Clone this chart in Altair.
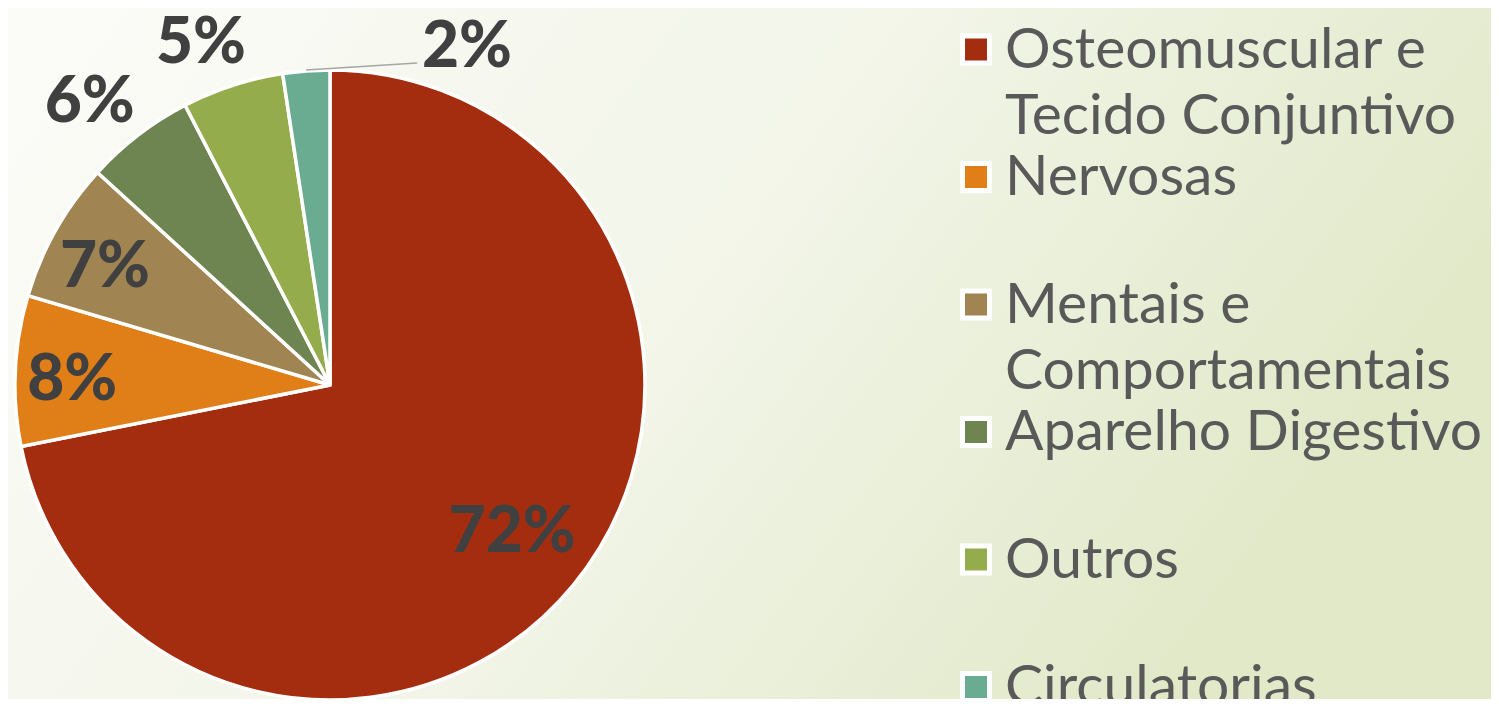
import altair as alt
import pandas as pd

# ---- data ----
categories = [
    "Osteomuscular e Tecido Conjuntivo",
    "Nervosas",
    "Mentais e Comportamentais",
    "Aparelho Digestivo",
    "Outros",
    "Circulatorias",
]
values = [71.8, 7.7, 7.2, 5.6, 5.2, 2.4]
legend_labels = [
    "Osteomuscular e\nTecido Conjuntivo",
    "Nervosas",
    "Mentais e\nComportamentais",
    "Aparelho Digestivo",
    "Outros",
    "Circulatorias",
]
colors = ["#A52D0F", "#E07E18", "#A08452", "#6F8551", "#95AC4D", "#69AC91"]

df = pd.DataFrame({
    "cat": categories,
    "value": values,
    "legend": legend_labels,
    "idx": list(range(len(categories))),
})

# ---- layout constants ----
W, H = 1483, 691
CX, CY, R = 322, 377, 315

color = alt.Color("cat:N", scale=alt.Scale(domain=categories, range=colors), legend=None)
theta = alt.Theta("value:Q", stack=True)
order = alt.Order("idx:Q")

base = alt.Chart(df)

bg = alt.Chart(alt.Data(values=[{"a": 1}])).mark_rect(
    color=alt.LinearGradient(
        gradient="linear",
        stops=[
            alt.GradientStop(color="#FBFCF8", offset=0),
            alt.GradientStop(color="#F2F5E8", offset=0.55),
            alt.GradientStop(color="#E1E9C9", offset=1),
        ],
        x1=0, x2=1, y1=0, y2=0.35,
    )
).encode(x=alt.value(0), x2=alt.value(W), y=alt.value(0), y2=alt.value(H))

pie = base.mark_arc(outerRadius=R, stroke="white", strokeWidth=3.5).encode(
    theta=theta, color=color, order=order,
    x=alt.value(CX), y=alt.value(CY),
)

label_base = base.transform_calculate(txt="format(datum.value, '.0f') + '%'")


def pct_labels(test, radius, dx=0, dy=0):
    return label_base.mark_text(
        font="Lato", fontWeight=900, fontSize=64, color="#404040",
        baseline="middle", radius=radius, dx=dx, dy=dy,
    ).encode(
        theta=theta, order=order, text="txt:N",
        opacity=alt.condition(test, alt.value(1), alt.value(0)),
        x=alt.value(CX), y=alt.value(CY),
    )


lab_big = pct_labels("datum.value > 50", 233, dx=2, dy=0)
lab_mid = pct_labels("datum.value >= 7 && datum.value <= 50", 255, dx=-3, dy=8)
lab_out = pct_labels("datum.value >= 3 && datum.value < 7", 372, dx=-14, dy=13)
lab_small = pct_labels("datum.value < 3", 372, dx=165, dy=34)

leader = base.transform_window(
    cum="sum(value)", sort=[alt.SortField("idx")], frame=[None, 0]
).transform_joinaggregate(total="sum(value)").transform_calculate(
    a="2*PI*(datum.cum - datum.value/2)/datum.total",
    lx=f"{CX} + {R + 1}*sin(datum.a)",
    ly=f"{CY} - {R + 1}*cos(datum.a)",
).transform_calculate(
    lx2="datum.lx + 111", ly2="datum.ly - 7"
).transform_filter("datum.value < 3").mark_rule(color="#A6A6A6", strokeWidth=1.5).encode(
    x=alt.X("lx:Q", scale=None, axis=None), x2="lx2:Q",
    y=alt.Y("ly:Q", scale=None, axis=None), y2="ly2:Q",
)

leg_y = alt.Y(
    "cat:N", sort=categories, axis=None,
    scale=alt.Scale(type="point", domain=categories, range=[41.5, 679], padding=0),
)

leg_sq = base.mark_square(size=729, filled=True, opacity=1, stroke="white", strokeWidth=5).encode(
    x=alt.value(968), y=leg_y, color=color,
)

leg_txt = base.mark_text(
    align="left", baseline="alphabetic", dy=18, font="Lato", fontSize=57,
    color="#595959", lineBreak="\n", lineHeight=66,
).encode(x=alt.value(997), y=leg_y, text="legend:N")

chart = alt.layer(
    bg, pie, lab_big, lab_mid, lab_out, lab_small, leader, leg_sq, leg_txt
).resolve_scale(
    x="independent", y="independent"
).properties(
    width=W, height=H, padding=0, autosize=alt.AutoSizeParams(type="none"),
).configure_view(stroke=None)

chart.save("out.html", embed_options={"renderer": "svg", "actions": False})
